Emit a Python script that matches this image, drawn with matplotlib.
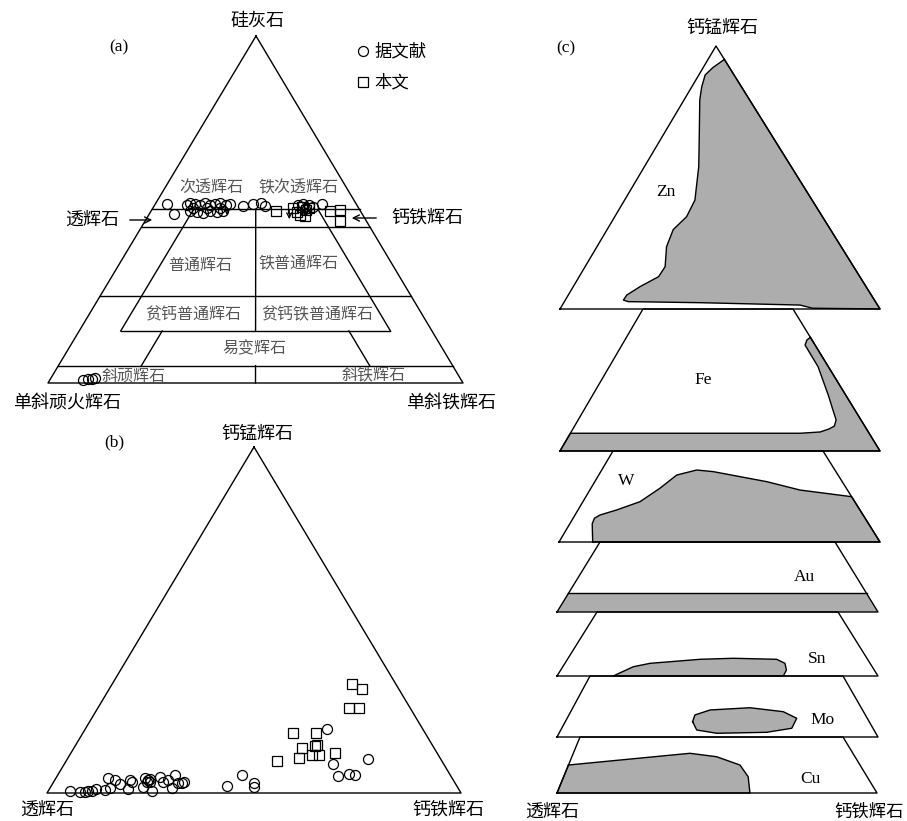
import matplotlib
matplotlib.use("Agg")
import matplotlib.pyplot as plt
import numpy as np

CJK = ['Noto Sans CJK SC', 'DejaVu Sans']
SERIF = ['Liberation Serif', 'DejaVu Serif']

# ---------------- Panel (a) data: Wo, Fs (fractions) ----------------
a_lit_wo = [0.516, 0.487, 0.513, 0.519, 0.516, 0.513, 0.519, 0.513, 0.516, 0.519, 0.513, 0.516,
            0.496, 0.493, 0.490, 0.496, 0.493, 0.496, 0.504, 0.504, 0.504,
            0.510, 0.516, 0.519, 0.510, 0.513, 0.516, 0.513, 0.507, 0.501, 0.516,
            0.009, 0.012, 0.012, 0.014]
a_lit_fs = [0.029, 0.060, 0.078, 0.083, 0.096, 0.110, 0.119, 0.134, 0.144, 0.155, 0.173, 0.181,
            0.094, 0.113, 0.128, 0.142, 0.161, 0.174, 0.097, 0.131, 0.162,
            0.215, 0.236, 0.252, 0.268, 0.346, 0.356, 0.373, 0.385, 0.368, 0.402,
            0.080, 0.090, 0.100, 0.106]
a_this_wo = [0.496, 0.504, 0.493, 0.507, 0.499, 0.504, 0.484, 0.481, 0.496, 0.499, 0.467]
a_this_fs = [0.301, 0.338, 0.354, 0.359, 0.372, 0.377, 0.365, 0.379, 0.431, 0.454, 0.470]

a_fields = ['次透辉石', '铁次透辉石', '普通辉石', '铁普通辉石', '贫钙普通辉石',
            '贫钙铁普通辉石', '易变辉石', '斜顽辉石', '斜铁辉石']
a_field_wo = [0.561, 0.562, 0.340, 0.346, 0.196, 0.196, 0.098, 0.020, 0.023]
a_field_fs = [0.113, 0.321, 0.196, 0.431, 0.251, 0.550, 0.447, 0.195, 0.772]

# ---------------- Panel (b) data: Jo, Hd (fractions) ----------------
b_lit_jo = [0.0066, 0.0038, 0.0038, 0.0066, 0.0066, 0.0107, 0.0087, 0.0136, 0.0425, 0.0376,
            0.026, 0.0107, 0.0376, 0.0327, 0.018, 0.0425, 0.0376, 0.0327, 0.0066, 0.047,
            0.0327, 0.0376, 0.0136, 0.052, 0.030, 0.030, 0.0327, 0.0318, 0.0405,
            0.020, 0.052, 0.028, 0.018, 0.185, 0.084, 0.050, 0.054, 0.052, 0.097]
b_lit_hd = [0.052, 0.078, 0.090, 0.096, 0.105, 0.113, 0.136, 0.145, 0.126, 0.145,
            0.163, 0.190, 0.182, 0.189, 0.223, 0.216, 0.225, 0.233, 0.250, 0.249,
            0.264, 0.273, 0.295, 0.283, 0.301, 0.311, 0.315, 0.226, 0.229,
            0.425, 0.445, 0.486, 0.491, 0.584, 0.649, 0.678, 0.702, 0.718, 0.727]
b_this_jo = [0.0925, 0.100, 0.131, 0.174, 0.174, 0.110, 0.136, 0.139, 0.110, 0.115,
             0.245, 0.247, 0.314, 0.301]
b_this_hd = [0.509, 0.559, 0.551, 0.507, 0.563, 0.585, 0.579, 0.583, 0.602, 0.639,
             0.607, 0.631, 0.580, 0.611]

# ---------------- Panel (c) data ----------------
# each slice: (u = Hd/(Di+Hd) across the slice, v = relative height in the slice)
c_names = ['Zn', 'Fe', 'W', 'Au', 'Sn', 'Mo', 'Cu']
c_shape_u = {
    'Zn': [1.0, 0.37, 0.18, 0.20, 0.24, 0.33, 0.37, 0.375, 0.346, 0.296, 0.285, 0.298, 0.283,
           0.228, 0.193, 0.188, 0.205, 0.436, 0.754, 0.79, 1.0],
    'Fe': [1.0, 0.973, 0.948, 0.953, 0.931, 0.919, 0.912, 0.895, 0.872, 0.838, 0.769, 0.0,
           0.0, 1.0],
    'W': [0.105, 0.075, 0.073, 0.087, 0.137, 0.21, 0.27, 0.326, 0.407, 0.479, 0.695, 0.816,
          1.0, 1.0],
    'Au': [0.0, 1.0, 1.0, 0.0],
    'Sn': [0.175, 0.228, 0.279, 0.442, 0.553, 0.697, 0.721, 0.72, 0.705],
    'Mo': [0.419, 0.425, 0.476, 0.614, 0.726, 0.765, 0.739, 0.656, 0.498, 0.434],
    'Cu': [0.0, 0.417, 0.511, 0.588, 0.608, 0.603, 0.0],
}
c_shape_v = {
    'Zn': [0.949, 0.918, 0.890, 0.845, 0.795, 0.669, 0.541, 0.414, 0.351, 0.302, 0.237, 0.161,
           0.123, 0.085, 0.053, 0.034, 0.028, 0.024, 0.015, 0.003, 0.0],
    'Fe': [0.80, 0.782, 0.746, 0.594, 0.394, 0.289, 0.218, 0.175, 0.155, 0.134, 0.125, 0.125,
           0.0, 0.0],
    'W': [0.0, 0.20, 0.262, 0.297, 0.352, 0.443, 0.590, 0.736, 0.791, 0.773, 0.663, 0.571,
          0.498, 0.0],
    'Au': [0.267, 0.267, 0.0, 0.0],
    'Sn': [0.0, 0.145, 0.198, 0.261, 0.277, 0.261, 0.198, 0.094, 0.0],
    'Mo': [0.251, 0.361, 0.443, 0.480, 0.415, 0.307, 0.143, 0.077, 0.061, 0.115],
    'Cu': [0.5, 0.709, 0.648, 0.5, 0.291, 0.0, 0.0],
}

# ---------------- layout (pixels) ----------------
A_TOP, A_LEFT, A_RIGHT = (256, 36), (48, 383), (463, 383)
B_TOP, B_LEFT, B_RIGHT = (254, 447), (47, 793), (461, 793)
# slice geometry: top_y, bottom_y, top_left, top_right, bottom_left, bottom_right
C_GEOM = {
    'Zn': (46, 309, 716, 716, 560, 880),
    'Fe': (309, 451, 643, 793, 560, 880),
    'W': (451, 542, 613, 823, 559, 880),
    'Au': (542, 612, 600, 835, 557, 878),
    'Sn': (612, 676, 597, 838, 557, 878),
    'Mo': (676, 737, 590, 843, 557, 878),
    'Cu': (737, 793, 580, 843, 557, 877),
}
C_LABEL = {'Zn': (666, 192), 'Fe': (703, 380), 'W': (626, 481), 'Au': (804, 577),
           'Sn': (817, 659), 'Mo': (823, 720), 'Cu': (810, 779)}

GRAY = '#adadad'
LW = 1.0
MS_C, MS_S, MEW = 7.2, 6.8, 0.9


def tern(top, left, right, t, r):
    t = np.asarray(t, float); r = np.asarray(r, float)
    l = 1 - t - r
    x = top[0] * t + left[0] * l + right[0] * r
    y = top[1] * t + left[1] * l + right[1] * r
    return x, y


def ta(wo, fs):
    return tern(A_TOP, A_LEFT, A_RIGHT, wo, fs)


def tb(jo, hd):
    return tern(B_TOP, B_LEFT, B_RIGHT, jo, hd)


def tc(name, u, v):
    ty, by, tl, tr, bl, br = C_GEOM[name]
    u = np.asarray(u, float); v = np.asarray(v, float)
    y = by - v * (by - ty)
    xl = bl + v * (tl - bl)
    xr = br + v * (tr - br)
    return xl + u * (xr - xl), y


fig = plt.figure(figsize=(9.07, 8.21), dpi=100)
ax = fig.add_axes([0, 0, 1, 1])
ax.set_xlim(0, 907)
ax.set_ylim(821, 0)
ax.axis('off')

# ================= Panel (a) =================
x, y = ta([1, 0, 0, 1], [0, 0, 1, 0])
ax.plot(x, y, color='k', lw=LW)


def seg_a(p, q):
    xs, ys = ta([p[0], q[0]], [p[1], q[1]])
    ax.plot(xs, ys, color='k', lw=LW)


for wo in [0.5, 0.45, 0.25, 0.05]:
    seg_a((wo, 0), (wo, 1 - wo))
seg_a((0.15, 0.10), (0.15, 0.75))
seg_a((0.5, 0.10), (0.15, 0.10))          # Fs = 10
seg_a((0.5, 0.40), (0.15, 0.75))          # En = 10
seg_a((0.15, 0.20), (0.05, 0.20))         # Fs = 20
seg_a((0.15, 0.65), (0.05, 0.75))         # En = 20
seg_a((0.5, 0.25), (0.15, 0.425))         # En = Fs
seg_a((0.05, 0.475), (0.0, 0.5))

for name, wo, fs in zip(a_fields, a_field_wo, a_field_fs):
    px, py = ta(wo, fs)
    ax.text(px, py, name, fontsize=11.5, color='#555555', family=CJK,
            ha='center', va='center')

px, py = ta(a_lit_wo, a_lit_fs)
ax.plot(px, py, 'o', ms=MS_C, mfc='none', mec='k', mew=MEW, ls='none')
px, py = ta(a_this_wo, a_this_fs)
ax.plot(px, py, 's', ms=MS_S, mfc='none', mec='k', mew=MEW, ls='none')

# down arrows
for (w0, f0), (w1, f1) in [((0.51, 0.176), (0.475, 0.193)), ((0.507, 0.327), (0.464, 0.349))]:
    p0 = ta(w0, f0); p1 = ta(w1, f1)
    ax.annotate('', xy=(float(p1[0]), float(p1[1])), xytext=(float(p0[0]), float(p0[1])),
                arrowprops=dict(arrowstyle='->', lw=0.9, color='k', mutation_scale=9))

ax.text(257, 21, '硅灰石', fontsize=13, family=CJK, ha='center', va='center')
ax.text(119, 47, '(a)', fontsize=12.5, family=SERIF, ha='center', va='center')
ax.plot([363], [51], 'o', ms=MS_C, mfc='none', mec='k', mew=MEW)
ax.text(374, 51, '据文献', fontsize=12.5, family=CJK, ha='left', va='center')
ax.plot([363], [82], 's', ms=MS_S, mfc='none', mec='k', mew=MEW)
ax.text(374, 82, '本文', fontsize=12.5, family=CJK, ha='left', va='center')

ax.text(92, 220, '透辉石', fontsize=13, family=CJK, ha='center', va='center')
ax.annotate('', xy=(155, 220), xytext=(127, 220),
            arrowprops=dict(arrowstyle='->', lw=1.0, color='k', mutation_scale=11))
ax.text(427, 218, '钙铁辉石', fontsize=13, family=CJK, ha='center', va='center')
ax.annotate('', xy=(349, 218), xytext=(379, 218),
            arrowprops=dict(arrowstyle='->', lw=1.0, color='k', mutation_scale=11))
ax.text(67, 404, '单斜顽火辉石', fontsize=13, family=CJK, ha='center', va='center')
ax.text(451, 404, '单斜铁辉石', fontsize=13, family=CJK, ha='center', va='center')

# ================= Panel (b) =================
x, y = tb([1, 0, 0, 1], [0, 0, 1, 0])
ax.plot(x, y, color='k', lw=LW)
px, py = tb(b_lit_jo, b_lit_hd)
ax.plot(px, py, 'o', ms=MS_C, mfc='none', mec='k', mew=MEW, ls='none')
px, py = tb(b_this_jo, b_this_hd)
ax.plot(px, py, 's', ms=MS_S, mfc='none', mec='k', mew=MEW, ls='none')
ax.text(257, 434, '钙锰辉石', fontsize=13, family=CJK, ha='center', va='center')
ax.text(114, 442, '(b)', fontsize=12.5, family=SERIF, ha='center', va='center')
ax.text(47, 810, '透辉石', fontsize=13, family=CJK, ha='center', va='center')
ax.text(448, 810, '钙铁辉石', fontsize=13, family=CJK, ha='center', va='center')

# ================= Panel (c) =================
for name in c_names:
    sx, sy = tc(name, c_shape_u[name], c_shape_v[name])
    ax.fill(sx, sy, facecolor=GRAY, edgecolor='none', zorder=1)
    if name == 'Au':
        bx, by_ = tc(name, [0, 1], [0.267, 0.267])
        ax.plot(bx, by_, color='k', lw=LW, zorder=3)
    else:
        ax.plot(np.append(sx, sx[0]), np.append(sy, sy[0]), color='k', lw=LW, zorder=3)
    ox, oy = tc(name, [0, 1, 1, 0, 0], [0, 0, 1, 1, 0])
    ax.plot(ox, oy, color='k', lw=LW, zorder=4)
    lx, ly = C_LABEL[name]
    ax.text(lx, ly, name, fontsize=12.5, family=SERIF, ha='center', va='center', zorder=5)

ax.text(722, 28, '钙锰辉石', fontsize=13, family=CJK, ha='center', va='center')
ax.text(566, 48, '(c)', fontsize=12.5, family=SERIF, ha='center', va='center')
ax.text(552, 812, '透辉石', fontsize=13, family=CJK, ha='center', va='center')
ax.text(904, 812, '钙铁辉石', fontsize=12.5, family=CJK, ha='right', va='center')

fig.savefig('out.png', dpi=100)
